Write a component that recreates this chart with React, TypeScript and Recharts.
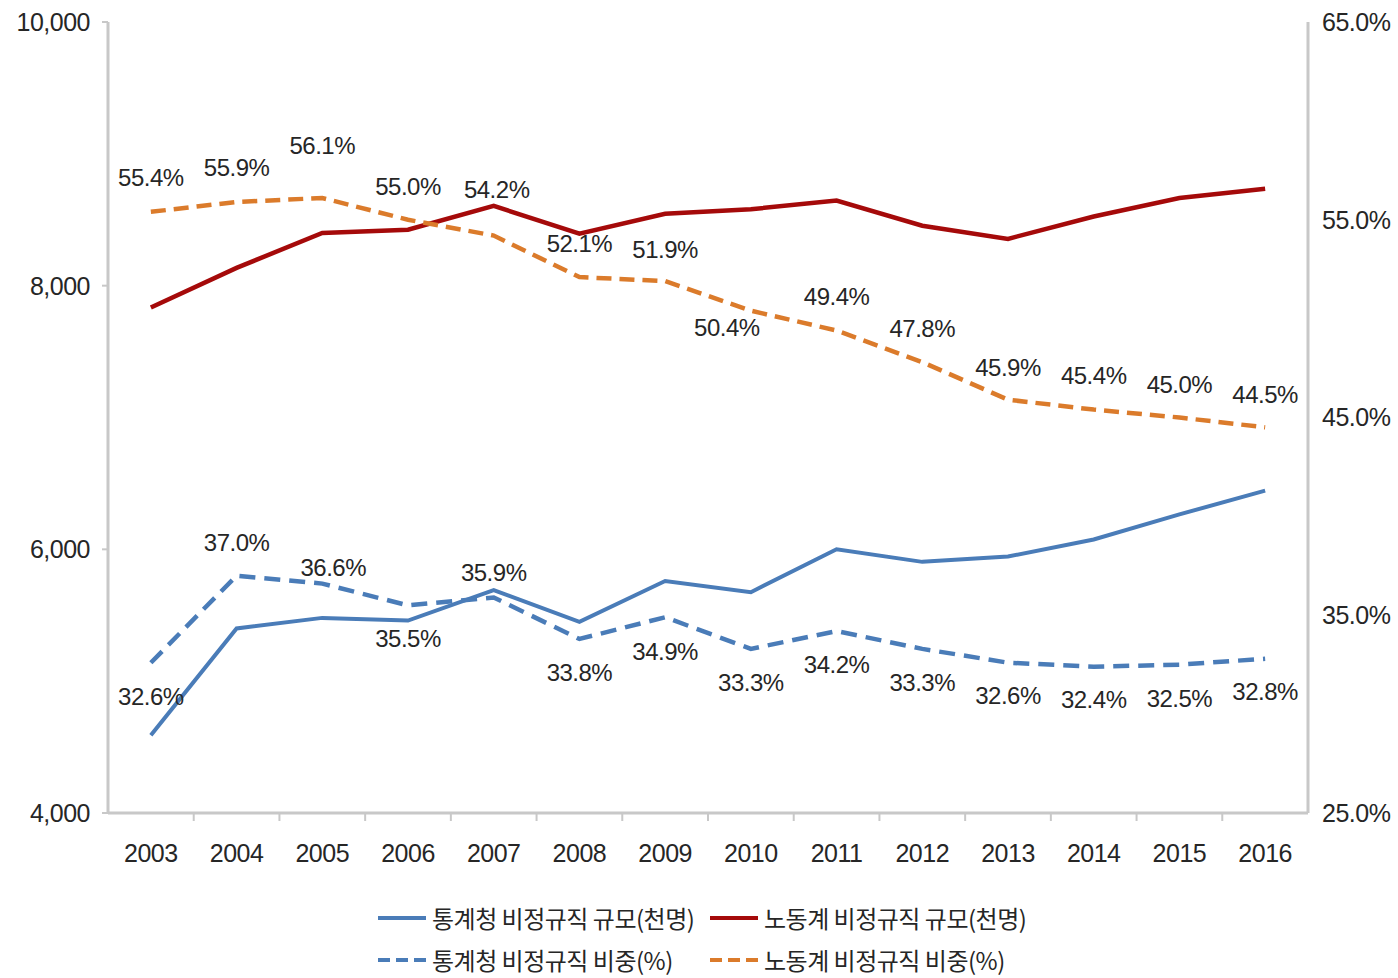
import React from 'react';
import { ComposedChart, Line, XAxis, YAxis, LabelList } from 'recharts';

const years = ['2003', '2004', '2005', '2006', '2007', '2008', '2009', '2010', '2011', '2012', '2013', '2014', '2015', '2016'];

// 규모 (천명) — left axis
const kostatSize = [4590, 5400, 5480, 5460, 5690, 5450, 5760, 5675, 6000, 5905, 5945, 6075, 6265, 6445];
const laborSize = [7835, 8135, 8400, 8425, 8605, 8395, 8545, 8580, 8645, 8455, 8355, 8525, 8665, 8735];

// 비중 (%) — right axis
const kostatShare = [32.6, 37.0, 36.6, 35.5, 35.9, 33.8, 34.9, 33.3, 34.2, 33.3, 32.6, 32.4, 32.5, 32.8];
const laborShare = [55.4, 55.9, 56.1, 55.0, 54.2, 52.1, 51.9, 50.4, 49.4, 47.8, 45.9, 45.4, 45.0, 44.5];

const leftTicks = [4000, 6000, 8000, 10000];
const rightTicks = [25, 35, 45, 55, 65];

// label nudges (px)
const laborLabelDy = [-34, -34, -52, -33, -46, -34, -32, 17, -34, -34, -32, -34, -33, -33];
const laborLabelDx = [0, 0, 0, 0, 3, 0, 0, -24, 0, 0, 0, 0, 0, 0];
const kostatLabelDy = [34, -33, -16, 33, -25, 34, 34, 34, 33, 34, 33, 33, 34, 33];
const kostatLabelDx = [0, 0, 11, 0, 0, 0, 0, 0, 0, 0, 0, 0, 0, 0];

const data = years.map((year, i) => ({
    year,
    kostatSize: kostatSize[i],
    laborSize: laborSize[i],
    kostatShare: kostatShare[i],
    laborShare: laborShare[i],
}));

const BLUE = '#4A7CB8';
const RED = '#A50A0A';
const ORANGE = '#DB7B2B';
const AXIS = '#C8C8C8';
const TEXT = '#262626';
const NUM_FONT = '"Liberation Sans", Arial, sans-serif';
const KR_FONT = '"Noto Sans CJK KR", "Noto Sans", sans-serif';

const BAND = 1200 / years.length;

function YearTick(props: any) {
    const { x, y, payload, index } = props;
    return (
        <g>
            {index < years.length - 1 && (
                <line x1={x + BAND / 2} x2={x + BAND / 2} y1={y} y2={y + 8} stroke={AXIS} strokeWidth={2} />
            )}
            <text x={x} y={y + 40} textAnchor="middle" dominantBaseline="central"
                fontFamily={NUM_FONT} fontSize={25} letterSpacing={-0.5} fill={TEXT}>
                {payload.value}
            </text>
        </g>
    );
}

function makeLabel(dxs: number[], dys: number[]) {
    return (props: any) => {
        const { x, y, index, value } = props;
        return (
            <text x={x + dxs[index]} y={y + dys[index]} textAnchor="middle" dominantBaseline="central"
                fontFamily={NUM_FONT} fontSize={24} letterSpacing={-0.5} fill={TEXT}>
                {Number(value).toFixed(1)}%
            </text>
        );
    };
}

function LegendItem({ color, dashed, label }: { color: string; dashed?: boolean; label: string }) {
    return (
        <div style={{ display: 'flex', alignItems: 'center', width: 332, height: 26 }}>
            <svg width={50} height={10}>
                <line x1={0} x2={48} y1={5} y2={5} stroke={color} strokeWidth={4}
                    strokeDasharray={dashed ? '12 6' : undefined} />
            </svg>
            <span style={{
                fontFamily: KR_FONT, fontSize: 24, lineHeight: '26px', color: TEXT,
                marginLeft: 4, whiteSpace: 'nowrap', letterSpacing: -0.5,
            }}>
                {label}
            </span>
        </div>
    );
}

export default function App() {
    return (
        <div style={{ position: 'absolute', left: 0, top: 0, width: 1398, height: 978, background: '#fff', overflow: 'hidden' }}>
            <ComposedChart width={1398} height={978} data={data}
                margin={{ top: 22, right: 0, left: 0, bottom: 105 }}>
                <XAxis dataKey="year" scale="band" height={60} axisLine={{ stroke: AXIS, strokeWidth: 3 }}
                    tickLine={false} tickSize={0} tickMargin={0} tick={<YearTick />} interval={0} />
                <YAxis yAxisId="left" domain={[4000, 10000]} ticks={leftTicks} width={108}
                    tickFormatter={(v: number) => v.toLocaleString('en-US')}
                    axisLine={{ stroke: AXIS, strokeWidth: 3 }} tickLine={{ stroke: AXIS, strokeWidth: 2 }}
                    tickSize={6} tickMargin={12}
                    tick={{ fontFamily: NUM_FONT, fontSize: 25, fill: TEXT, letterSpacing: -0.5 }} />
                <YAxis yAxisId="right" orientation="right" domain={[25, 65]} ticks={rightTicks} width={90}
                    tickFormatter={(v: number) => v.toFixed(1) + '%'}
                    axisLine={{ stroke: AXIS, strokeWidth: 3 }} tickLine={false}
                    tickSize={6} tickMargin={8}
                    tick={{ fontFamily: NUM_FONT, fontSize: 25, fill: TEXT, letterSpacing: -0.5 }} />

                <Line yAxisId="left" dataKey="kostatSize" type="linear" stroke={BLUE} strokeWidth={4}
                    dot={false} isAnimationActive={false} />
                <Line yAxisId="left" dataKey="laborSize" type="linear" stroke={RED} strokeWidth={4.5}
                    dot={false} isAnimationActive={false} />
                <Line yAxisId="right" dataKey="kostatShare" type="linear" stroke={BLUE} strokeWidth={4.5}
                    strokeDasharray="16 9" dot={false} isAnimationActive={false}>
                    <LabelList dataKey="kostatShare" content={makeLabel(kostatLabelDx, kostatLabelDy)} />
                </Line>
                <Line yAxisId="right" dataKey="laborShare" type="linear" stroke={ORANGE} strokeWidth={4.5}
                    strokeDasharray="15 8" dot={false} isAnimationActive={false}>
                    <LabelList dataKey="laborShare" content={makeLabel(laborLabelDx, laborLabelDy)} />
                </Line>
            </ComposedChart>

            <div style={{ position: 'absolute', left: 378, top: 905, display: 'flex' }}>
                <LegendItem color={BLUE} label="통계청 비정규직 규모(천명)" />
                <LegendItem color={RED} label="노동계 비정규직 규모(천명)" />
            </div>
            <div style={{ position: 'absolute', left: 378, top: 947, display: 'flex' }}>
                <LegendItem color={BLUE} dashed label="통계청 비정규직 비중(%)" />
                <LegendItem color={ORANGE} dashed label="노동계 비정규직 비중(%)" />
            </div>
        </div>
    );
}
